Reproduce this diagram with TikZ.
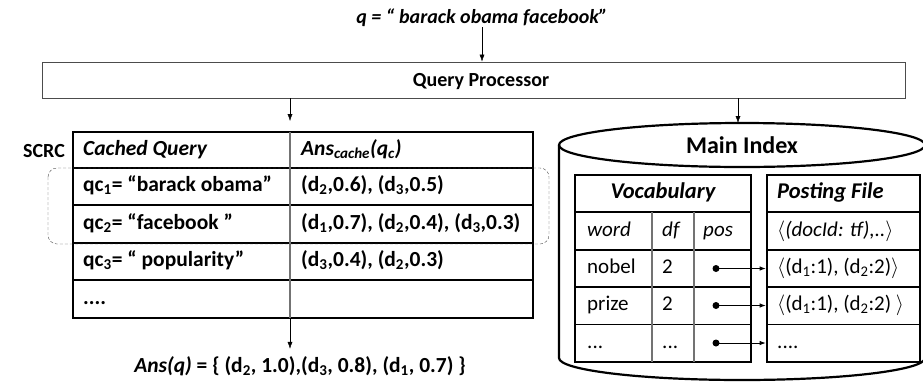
\documentclass[tikz,border=0pt]{standalone}
\usepackage{fontspec}
\setmainfont{Carlito}
\usetikzlibrary{positioning,arrows.meta}

\begin{document}
\begin{tikzpicture}[>={Latex[length=7pt,width=5pt]}, x=1pt, y=-1pt,
    every node/.style={inner sep=0pt},
    tbl/.style={draw, line width=2.6pt},
    hdr/.style={line width=1.8pt},
    row/.style={line width=1.1pt},
    col/.style={line width=1.1pt, black!55},
    cell/.style={anchor=west, text height=15pt, text depth=5pt, font=\fontsize{21.5}{24}\selectfont\bfseries},
    vcell/.style={anchor=west, text height=15pt, text depth=5pt, font=\fontsize{21}{24}\selectfont},
    dot/.style={circle, fill, minimum size=7pt}]
\useasboundingbox (0,0) rectangle (923,381);

% query and processor
\node[font=\fontsize{20}{24}\selectfont\bfseries\itshape] (q) at (482,18) {q = “ barack obama facebook”};
\node[draw=black!70, line width=0.9pt, minimum width=863pt, minimum height=36pt, text height=17pt, text depth=5pt,
      font=\fontsize{20}{24}\selectfont\bfseries] (qp) at (473.5,80) {\hspace*{15pt}Query Processor};
\draw[->] (q) -- (q |- qp.north);

% SCRC table
\node[tbl, minimum width=460pt, minimum height=186pt] (cache) at (303,225) {};
\coordinate (div) at (290,132);
\draw[hdr] (73,168) -- (533,168);
\foreach \y in {205,243,280} \draw[row] (73,\y) -- (533,\y);
\draw[col] (div) -- (290,318);
\draw[densely dashed, black!70, rounded corners=9pt] (48,168) rectangle (549,244);
\node[font=\fontsize{20}{24}\selectfont\bfseries] (scrc) at (44,151) {SCRC};
\node[cell] (h1) at (83,150) {\itshape Cached Query};
\node[cell] (h2) at (301,150) {\itshape Ans\textsubscript{cache}(q\textsubscript{c})};
\node[cell] (k1) at (83,186.5) {qc\textsubscript{1}= “barack obama”};
\node[cell] (v1) at (301,186.5) {(d\textsubscript{2},0.6), (d\textsubscript{3},0.5)};
\node[cell] (k2) at (83,224) {qc\textsubscript{2}= “facebook ”};
\node[cell] (v2) at (301,224) {(d\textsubscript{1},0.7), (d\textsubscript{2},0.4), (d\textsubscript{3},0.3)};
\node[cell] (k3) at (83,261.5) {qc\textsubscript{3}= “ popularity”};
\node[cell] (v3) at (301,261.5) {(d\textsubscript{3},0.4), (d\textsubscript{2},0.3)};
\node[cell] (k4) at (83,299) {....};
\node[font=\fontsize{21.5}{24}\selectfont\bfseries, text height=15pt, text depth=5pt] (ans) at (300,367)
  {\itshape Ans(q)\upshape\ = \{ (d\textsubscript{2}, 1.0),(d\textsubscript{3}, 0.8), (d\textsubscript{1}, 0.7) \}};
\draw[->, shorten >=11pt] (qp.south -| div) -- (div);
\draw[->, shorten >=8pt] (cache.south -| div) -- (ans.north -| div);

% main index
\coordinate (idxtop) at (738,123);
\draw[line width=2.2pt] (742,145) ellipse [x radius=183pt, y radius=22pt];
\draw[line width=2.2pt] (559,145) -- (559,358)
  arc[start angle=180, end angle=360, x radius=183pt, y radius=22pt] -- (925,145);
\node[font=\fontsize{24}{26}\selectfont\bfseries] (mi) at (742,145) {Main Index};
\draw[->] (qp.south -| idxtop) -- (idxtop);

% vocabulary
\node[tbl, minimum width=176pt, minimum height=187pt] (voc) at (663,268.5) {};
\draw[hdr] (575,212) -- (751,212);
\foreach \y in {250,287,324.5} \draw[row] (575,\y) -- (751,\y);
\foreach \x in {652,694} \draw[col] (\x,212) -- (\x,362);
\node[font=\fontsize{22.5}{24}\selectfont\bfseries\itshape, text height=16pt, text depth=5pt] (vt) at (663,193) {Vocabulary};
\node[vcell] at (587,231) {\itshape word};
\node[vcell] at (662,231) {\itshape df};
\node[vcell] at (703,231) {\itshape pos};
\node[vcell] at (587,268.5) {nobel};
\node[vcell] at (662,268.5) {2};
\node[vcell] at (587,305.5) {prize};
\node[vcell] at (662,305.5) {2};
\node[vcell] at (587,343) {...};
\node[vcell] at (662,343) {...};
\node[dot] (p1) at (716,268.5) {};
\node[dot] (p2) at (716,305.5) {};
\node[dot] (p3) at (716,343) {};

% posting file
\node[tbl, minimum width=153pt, minimum height=187pt] (post) at (843.5,268.5) {};
\draw[hdr] (767,212) -- (920,212);
\foreach \y in {250,287,324.5} \draw[row] (767,\y) -- (920,\y);
\node[font=\fontsize{22.5}{24}\selectfont\bfseries\itshape, anchor=west, text height=16pt, text depth=5pt] (pt) at (777,193) {Posting File};
\node[vcell] at (777,231) {\itshape $\langle$(docId: tf),..$\rangle$};
\node[vcell] at (777,268.5) {$\langle$(d\textsubscript{1}:1), (d\textsubscript{2}:2)$\rangle$};
\node[vcell] at (777,305.5) {$\langle$(d\textsubscript{1}:1), (d\textsubscript{2}:2) $\rangle$};
\node[vcell] at (777,343) {....};
\foreach \p in {p1,p2,p3}
  \draw[->, line width=0.9pt, >={Latex[length=6pt,width=4.5pt]}] (\p.center) -- (\p -| post.west);
\end{tikzpicture}
\end{document}
